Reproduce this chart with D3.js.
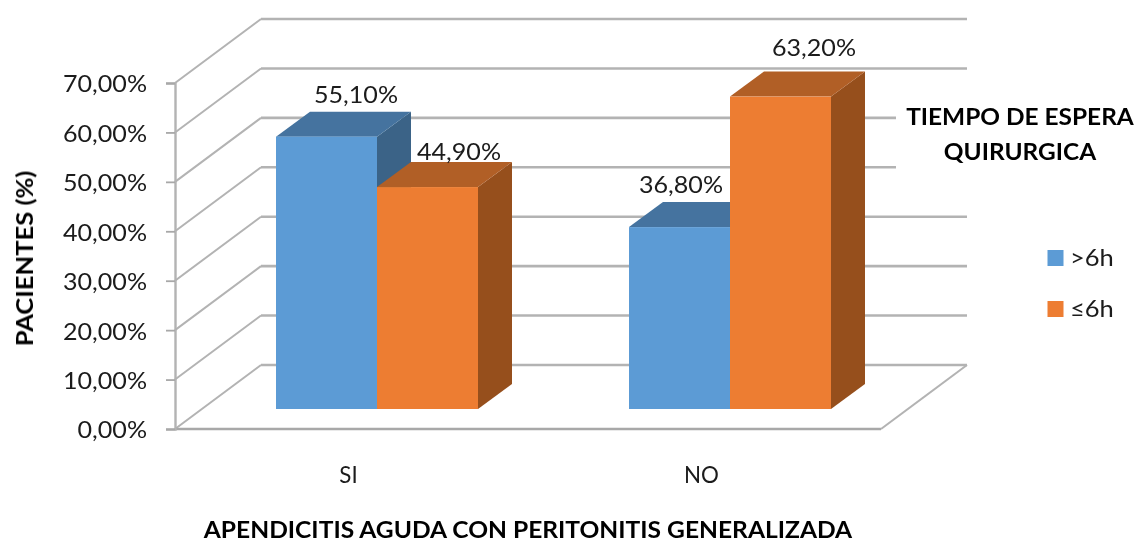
<!DOCTYPE html>
<html><head><meta charset="utf-8">
<script src="https://cdn.jsdelivr.net/npm/d3@7/dist/d3.min.js"></script>
<style>html,body{margin:0;background:#fff}svg{display:block}text{font-family:Lato,"Open Sans",sans-serif;fill:#1a1a1a}</style>
</head><body><script>
const categories = ["SI", "NO"];
const seriesNames = [">6h", "≤6h"];
const over6h = [55.1, 36.8];
const upTo6h = [44.9, 63.2];
const yTicks = [0, 10, 20, 30, 40, 50, 60, 70];
const seriesColors = ["#5B9BD5", "#ED7D31"];
const topColors = ["#44739F", "#B15E25"];
const sideColors = ["#3A6487", "#964F1D"];
// hand-placed label offsets from each bar's top-back edge: [dx, baseline dy] per category, per series
const labelOffsets = [[[29.5, -9], [31.5, -2]], [[1.5, -9], [33.5, -16]]];

const W = 1139, H = 541;
const fmt = v => v.toFixed(2).replace(".", ",") + "%";
const svg = d3.select("body").append("svg").attr("width", W).attr("height", H);
const defs = svg.append("defs");
defs.append("filter").attr("id", "soft").append("feGaussianBlur").attr("stdDeviation", 0.45);
const root = svg.append("g").attr("filter", "url(#soft)");

// Calibri-like look: Lato glyphs stretched horizontally to the measured width
function stretch(sel, factor) {
  sel.each(function () {
    this.setAttribute("lengthAdjust", "spacingAndGlyphs");
    this.setAttribute("textLength", this.getComputedTextLength() * factor);
  });
  return sel;
}

const y = d3.scaleLinear().domain([0, 70]).range([429, 83]);
const x = d3.scaleBand().domain(categories).range([175, 881]);
const inner = d3.scaleBand().domain([0, 1]).range([0, 202]);
const wall = [86, -64], barShift = [25.5, -20], barDepth = [34, -25];
const grid = "#b3b3b3";

root.selectAll(".back").data(yTicks).join("line")
  .attr("x1", 175 + wall[0]).attr("x2", 881 + wall[0])
  .attr("y1", d => y(d) + wall[1]).attr("y2", d => y(d) + wall[1])
  .attr("stroke", grid).attr("stroke-width", 2.6);
root.selectAll(".diag").data(yTicks).join("line")
  .attr("x1", 175).attr("x2", 175 + wall[0])
  .attr("y1", d => y(d)).attr("y2", d => y(d) + wall[1])
  .attr("stroke", grid).attr("stroke-width", 2);
root.append("line").attr("x1", 175).attr("x2", 881).attr("y1", y(0)).attr("y2", y(0)).attr("stroke", "#a8a8a8").attr("stroke-width", 2.4);
root.append("line").attr("x1", 881).attr("x2", 881 + wall[0]).attr("y1", y(0)).attr("y2", y(0) + wall[1]).attr("stroke", grid).attr("stroke-width", 2);

const yAxis = root.append("g").attr("transform", "translate(175,0)")
  .call(d3.axisLeft(y).tickValues(yTicks).tickFormat(fmt).tickSize(9).tickPadding(19));
yAxis.select(".domain").attr("stroke", grid).attr("stroke-width", 2.4);
yAxis.selectAll("line").attr("stroke", "#a8a8a8").attr("stroke-width", 1.8);
const tickTexts = yAxis.selectAll("text").attr("font-size", 24).style("font-family", "Lato").attr("fill", "#1a1a1a").attr("dy", "0.37em");

categories.forEach((cat, i) => {
  const vals = [over6h[i], upTo6h[i]];
  const cx = x(cat) + x.bandwidth() / 2 + barShift[0];
  vals.forEach((v, s) => {
    const x0 = cx - 101 + inner(s), x1 = x0 + inner.bandwidth();
    const yt = y(v) + barShift[1], yb = y(0) + barShift[1];
    const [dx, dy] = barDepth;
    const poly = p => p.map(q => q.join(",")).join(" ");
    root.append("polygon").attr("points", poly([[x1, yt], [x1 + dx, yt + dy], [x1 + dx, yb + dy], [x1, yb]])).attr("fill", sideColors[s]);
    root.append("polygon").attr("points", poly([[x0, yt], [x0 + dx, yt + dy], [x1 + dx, yt + dy], [x1, yt]])).attr("fill", topColors[s]);
    root.append("rect").attr("x", x0).attr("y", yt).attr("width", x1 - x0).attr("height", yb - yt).attr("fill", seriesColors[s]);
  });
  vals.forEach((v, s) => {
    const x0 = cx - 101 + inner(s);
    const [ox, oy] = labelOffsets[i][s];
    stretch(root.append("text")
      .attr("x", x0 + inner.bandwidth() / 2 + ox).attr("y", y(v) + barShift[1] + barDepth[1] + oy)
      .attr("text-anchor", "middle").attr("font-size", 24).text(fmt(v)), 1.045);
  });
  stretch(root.append("text").attr("x", x(cat) + x.bandwidth() / 2 - 3).attr("y", 483)
    .attr("text-anchor", "middle").attr("font-size", 24).text(cat), 0.93);
});

stretch(root.append("text").attr("x", 528).attr("y", 537.5).attr("text-anchor", "middle")
  .attr("font-size", 22).attr("font-weight", 700).style("fill", "#000").text("APENDICITIS AGUDA CON PERITONITIS GENERALIZADA"), 1.117);
stretch(root.append("text").attr("transform", "translate(33,258.5) rotate(-90)").attr("text-anchor", "middle")
  .attr("font-size", 23).attr("font-weight", 700).style("fill", "#000").text("PACIENTES (%)"), 1.11);

root.append("rect").attr("x", 896).attr("y", 98).attr("width", 243).attr("height", 72).attr("fill", "#fff");
["TIEMPO DE ESPERA", "QUIRURGICA"].forEach((t, i) => {
  stretch(root.append("text").attr("x", 1020).attr("y", 125 + i * 35).attr("text-anchor", "middle")
    .attr("font-size", 23).attr("font-weight", 700).style("fill", "#000").text(t), 1.062);
});
seriesNames.forEach((n, i) => {
  const ly = 250 + i * 51;
  root.append("rect").attr("x", 1047.5).attr("y", ly).attr("width", 16).attr("height", 16).attr("fill", seriesColors[i]);
  stretch(root.append("text").attr("x", 1070).attr("y", ly + 16).attr("font-size", 24).text(n), 1.063);
});
stretch(tickTexts, 1.045);
</script></body></html>
